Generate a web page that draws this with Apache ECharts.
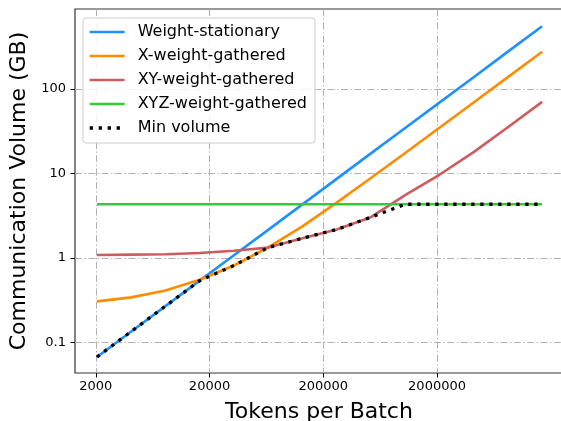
<!DOCTYPE html>
<html>
<head>
<meta charset="utf-8">
<script src="https://cdn.jsdelivr.net/npm/echarts@6/dist/echarts.min.js"></script>
<style>
html,body{margin:0;padding:0;background:#fff;}
#chart{width:561px;height:421px;}
</style>
</head>
<body>
<div id="chart"></div>
<script>
// Tokens per batch (x values)
var tokens = [2048, 4096, 8192, 16384, 32768, 65536, 131072, 262144, 524288, 1048576, 2097152, 4194304, 8388608, 16777216];
// Communication volume (GB)
var weightStationary = [0.067, 0.134, 0.268, 0.536, 1.07, 2.14, 4.29, 8.58, 17.2, 34.3, 68.6, 137, 275, 549];
var xWeightGathered = [0.305, 0.34, 0.41, 0.55, 0.81, 1.33, 2.35, 4.5, 8.8, 17.4, 34.5, 68.8, 137.5, 274.5];
var xyWeightGathered = [1.08, 1.09, 1.10, 1.14, 1.21, 1.32, 1.70, 2.16, 3.02, 5.5, 9.6, 17.8, 35.1, 70];
var xyzWeightGathered = [4.3, 4.3, 4.3, 4.3, 4.3, 4.3, 4.3, 4.3, 4.3, 4.3, 4.3, 4.3, 4.3, 4.3];
var minVolume = [0.067, 0.134, 0.268, 0.536, 0.81, 1.32, 1.70, 2.16, 3.02, 4.3, 4.3, 4.3, 4.3, 4.3];
// Tick labels
var xTicks = [2000, 20000, 200000, 2000000];
var yTicks = [0.1, 1, 10, 100];

function pairs(ys) { return tokens.map(function (t, i) { return [t, ys[i]]; }); }

var FONT = 'DejaVu Sans';
var gridLine = { show: true, lineStyle: { color: '#b0b0b0', width: 1, type: [7, 2.5, 1.3, 2.5] } };

var chart = echarts.init(document.getElementById('chart'), null, { renderer: 'canvas' });
chart.setOption({
  animation: false,
  backgroundColor: '#fff',
  textStyle: { fontFamily: FONT },
  grid: { left: 75, top: 9, right: -2, bottom: 48, show: true, borderColor: '#333', borderWidth: 1.2, backgroundColor: 'transparent', containLabel: false, outerBoundsMode: 'none' },
  legend: {
    orient: 'vertical', left: 83, top: 18,
    itemWidth: 35, itemHeight: 16, itemGap: 8,
    padding: [6, 8, 7, 5],
    backgroundColor: 'rgba(255,255,255,0.85)', borderColor: '#cccccc', borderWidth: 1, borderRadius: 3,
    itemStyle: { opacity: 0 },
    lineStyle: { width: 'inherit', type: 'inherit' },
    textStyle: { fontFamily: FONT, fontSize: 16, color: '#000', lineHeight: 16, padding: [0, 0, 0, 8] },
    data: ['Weight-stationary', 'X-weight-gathered', 'XY-weight-gathered', 'XYZ-weight-gathered', 'Min volume']
  },
  xAxis: {
    type: 'log', logBase: 10, min: 1313, max: 25600000,
    name: 'Tokens per Batch', nameLocation: 'middle', nameGap: 28,
    nameTextStyle: { fontFamily: FONT, fontSize: 22, color: '#000' },
    axisLine: { show: false },
    axisTick: { show: true, length: 4.5, customValues: xTicks, lineStyle: { color: '#000', width: 1 } },
    axisLabel: { customValues: xTicks, margin: 7, fontFamily: FONT, fontSize: 13, color: '#000', formatter: function (v) { return String(Math.round(v)); } },
    splitLine: gridLine,
    minorTick: { show: false }, minorSplitLine: { show: false }
  },
  yAxis: {
    type: 'log', logBase: 10, min: 0.0433, max: 879,
    name: 'Communication Volume (GB)', nameLocation: 'middle', nameGap: 42,
    nameTextStyle: { fontFamily: FONT, fontSize: 22, color: '#000' },
    axisLine: { show: false },
    axisTick: { show: true, length: 4.5, customValues: yTicks, lineStyle: { color: '#000', width: 1 } },
    axisLabel: { customValues: yTicks, margin: 9, fontFamily: FONT, fontSize: 13, color: '#000', formatter: function (v) { return v < 1 ? String(Math.round(v * 10) / 10) : String(Math.round(v)); } },
    splitLine: gridLine,
    minorTick: { show: false }, minorSplitLine: { show: false }
  },
  series: [
    { name: 'Weight-stationary', type: 'line', data: pairs(weightStationary), symbol: 'none', z: 2, lineStyle: { color: '#1E90FF', width: 2.6 }, itemStyle: { color: '#1E90FF' } },
    { name: 'X-weight-gathered', type: 'line', data: pairs(xWeightGathered), symbol: 'none', z: 3, lineStyle: { color: '#FF8C00', width: 2.6 }, itemStyle: { color: '#FF8C00' } },
    { name: 'XY-weight-gathered', type: 'line', data: pairs(xyWeightGathered), symbol: 'none', z: 4, lineStyle: { color: '#CD5C5C', width: 2.6 }, itemStyle: { color: '#CD5C5C' } },
    { name: 'XYZ-weight-gathered', type: 'line', data: pairs(xyzWeightGathered), symbol: 'none', z: 5, lineStyle: { color: '#32CD32', width: 2.6 }, itemStyle: { color: '#32CD32' } },
    { name: 'Min volume', type: 'line', data: pairs(minVolume), symbol: 'none', z: 6, lineStyle: { color: '#000', width: 3.3, type: [3.3, 5.7], cap: 'butt' }, itemStyle: { color: '#000' } }
  ]
});
</script>
</body>
</html>
